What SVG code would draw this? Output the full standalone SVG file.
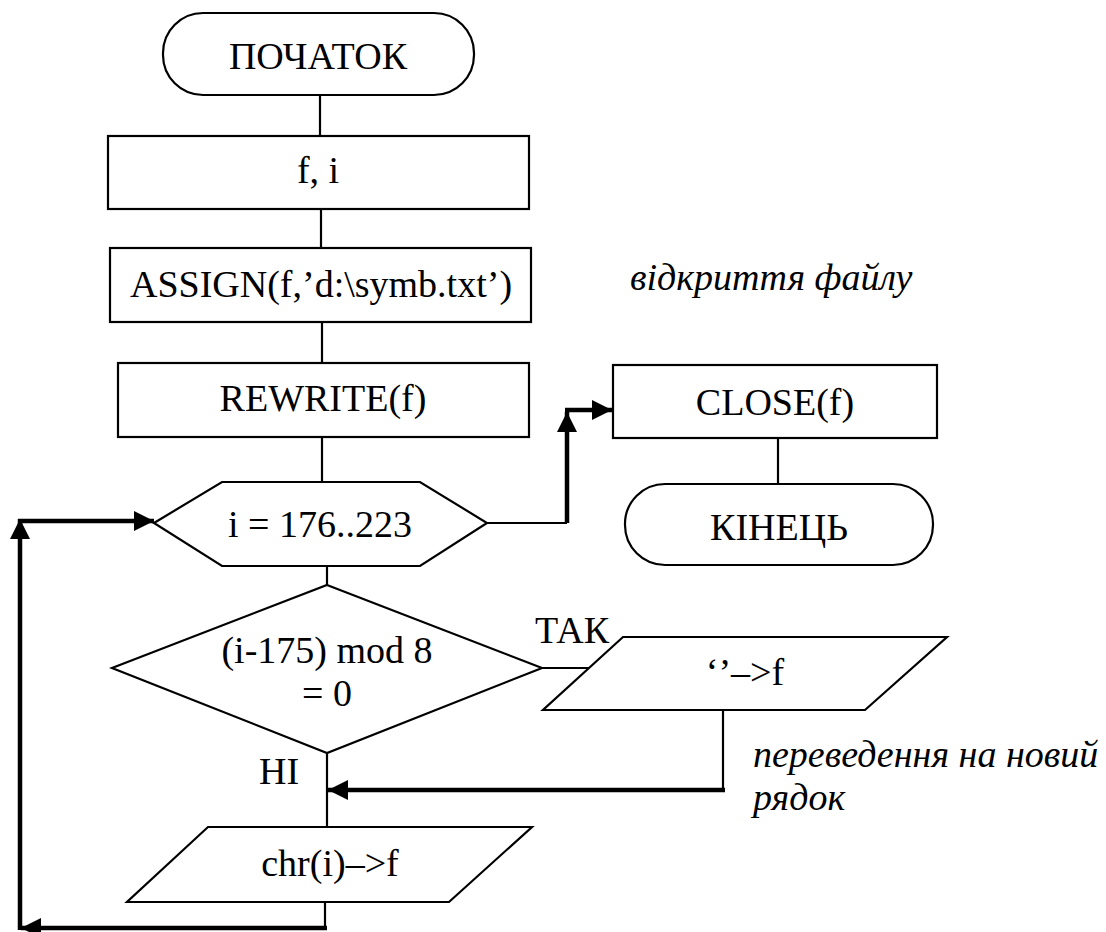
<svg xmlns="http://www.w3.org/2000/svg" width="1106" height="932" viewBox="0 0 1106 932">
  <style>
    .shape { fill: #fff; stroke: #000; stroke-width: 2.2; }
    .thin { fill: none; stroke: #000; stroke-width: 2.2; }
    .thick { fill: none; stroke: #000; stroke-width: 4.5; }
    text { font-family: 'Liberation Serif', 'Times New Roman', Tinos, 'DejaVu Serif', serif; font-size: 38px; fill: #000; }
    .label { text-anchor: middle; }
    .note { font-style: italic; }
  </style>
  <defs>
    <marker id="head" viewBox="0 0 20 20" refX="20" refY="10" markerWidth="20" markerHeight="20" markerUnits="userSpaceOnUse" orient="auto">
      <path d="M0,0 L20,10 L0,20 Z" fill="#000"/>
    </marker>
  </defs>

  <rect width="1106" height="932" fill="#fff"/>

  <!-- connectors -->
  <g id="connectors">
    <line class="thin" x1="320" y1="95" x2="320" y2="136"/>
    <line class="thin" x1="321" y1="209" x2="321" y2="248"/>
    <line class="thin" x1="322" y1="322" x2="322" y2="363"/>
    <line class="thin" x1="322" y1="437" x2="322" y2="482"/>
    <line class="thin" x1="327" y1="566" x2="327" y2="585"/>
    <line class="thin" x1="327" y1="753" x2="327" y2="827"/>
    <!-- loop exit to CLOSE -->
    <line class="thin" x1="487" y1="523" x2="567" y2="523"/>
    <polyline class="thick" points="567,523 567,412" marker-end="url(#head)"/>
    <polyline class="thick" points="565,410 612,410" marker-end="url(#head)"/>
    <line class="thin" x1="778" y1="438" x2="778" y2="484"/>
    <!-- TAK branch -->
    <line class="thin" x1="542" y1="668" x2="589" y2="668"/>
    <line class="thin" x1="723" y1="710" x2="723" y2="790"/>
    <polyline class="thick" points="725,790 328,790" marker-end="url(#head)"/>
    <!-- loop back -->
    <line class="thin" x1="325" y1="902" x2="325" y2="928"/>
    <polyline class="thick" points="327,928 21,928" marker-end="url(#head)"/>
    <polyline class="thick" points="20,930 20,519" marker-end="url(#head)"/>
    <polyline class="thick" points="18,521 154,521" marker-end="url(#head)"/>
  </g>

  <g id="start">
    <rect class="shape" x="163" y="13" width="311" height="82" rx="40" ry="40"/>
    <text class="label" x="318" y="69">ПОЧАТОК</text>
  </g>

  <g id="vars">
    <rect class="shape" x="108" y="136" width="421" height="73"/>
    <text class="label" x="318" y="183">f, i</text>
  </g>

  <g id="assign">
    <rect class="shape" x="110" y="248" width="421" height="74"/>
    <text class="label" x="321" y="297">ASSIGN(f,’d:\symb.txt’)</text>
  </g>

  <g id="note-open">
    <text class="note" x="630" y="290">відкриття файлу</text>
  </g>

  <g id="rewrite">
    <rect class="shape" x="118" y="363" width="411" height="74"/>
    <text class="label" x="323" y="411">REWRITE(f)</text>
  </g>

  <g id="loop">
    <polygon class="shape" points="154,523 222,482 420,482 487,523 420,566 222,566"/>
    <text class="label" x="320" y="537">i = 176..223</text>
  </g>

  <g id="close">
    <rect class="shape" x="613" y="365" width="324" height="73"/>
    <text class="label" x="775" y="415">CLOSE(f)</text>
  </g>

  <g id="end">
    <rect class="shape" x="625" y="484" width="308" height="81" rx="40" ry="40"/>
    <text class="label" x="779" y="540">КІНЕЦЬ</text>
  </g>

  <g id="check">
    <polygon class="shape" points="327,585 542,668 327,753 112,668"/>
    <text class="label" x="327" y="663">(i-175) mod 8</text>
    <text class="label" x="327" y="706">= 0</text>
  </g>

  <g id="labels">
    <text x="535" y="643">ТАК</text>
    <text x="259" y="784">НІ</text>
  </g>

  <g id="newline">
    <polygon class="shape" points="623,637 947,637 865,710 543,710"/>
    <text class="label" x="745" y="685">‘’–&gt;f</text>
  </g>

  <g id="note-newline">
    <text class="note" x="753" y="767">переведення на новий</text>
    <text class="note" x="753" y="810">рядок</text>
  </g>

  <g id="write">
    <polygon class="shape" points="208,827 532,827 449,902 127,902"/>
    <text class="label" x="330" y="876">chr(i)–&gt;f</text>
  </g>
</svg>
